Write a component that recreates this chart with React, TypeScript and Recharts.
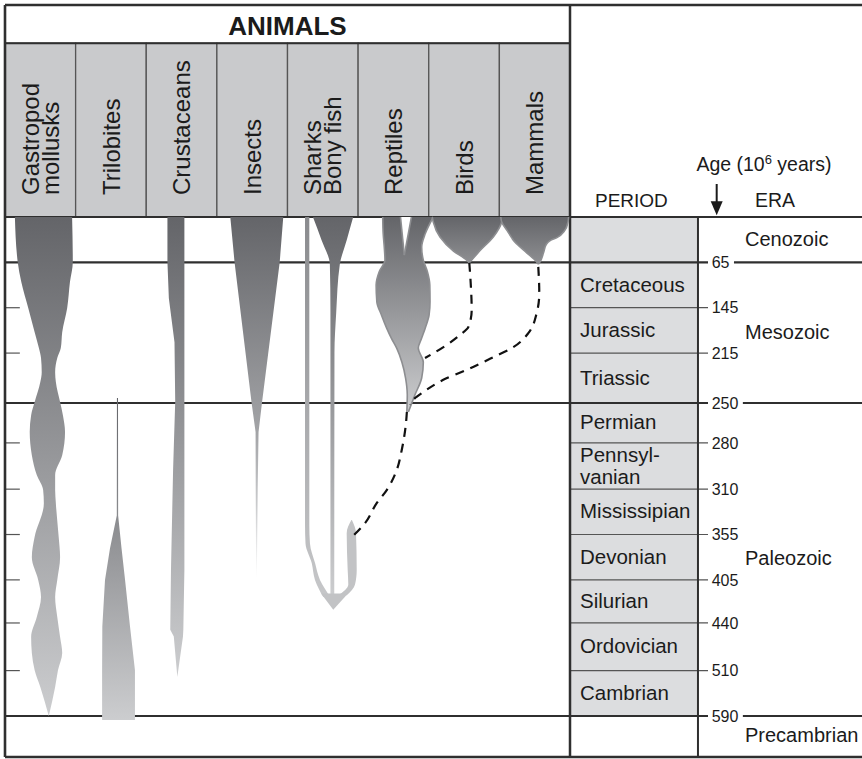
import React from 'react';
import {
  ComposedChart,
  Area,
  Line,
  XAxis,
  YAxis,
  ReferenceArea,
  ReferenceLine,
  ReferenceDot,
} from 'recharts';

// ---------------- layout constants ----------------
const FONT = "'Liberation Sans', Arial, Helvetica, sans-serif";
const INK = '#1b1b1b';
const W = 862;
const H = 759;
const MARGIN = { top: 5, right: 0, bottom: 2, left: 5 };
const COL_W = 70.625; // px per x unit (one animal column)
const ROW_H = 45.36; // px per y unit (one geologic period row)
const X_MAX = (W - MARGIN.left - MARGIN.right) / COL_W;
const Y_MIN = -212 / ROW_H;
const Y_MAX = Y_MIN + (H - MARGIN.top - MARGIN.bottom) / ROW_H;
const TITLE_BOTTOM = -3.83;
const PERIOD_X1 = 8;
const PERIOD_X2 = 9.812;
const TICK_END = 9.954;
const LEFT_TICK = 0.21;
const AGE_X = 10.006;
const ERA_X = 10.478;
const ARROW_X = 10.077;

// ---------------- data ----------------
const animals: string[][] = [
  ['Gastropod', 'mollusks'],
  ['Trilobites'],
  ['Crustaceans'],
  ['Insects'],
  ['Sharks', 'Bony fish'],
  ['Reptiles'],
  ['Birds'],
  ['Mammals'],
];

const periods: string[][] = [
  [],
  ['Cretaceous'],
  ['Jurassic'],
  ['Triassic'],
  ['Permian'],
  ['Pennsyl-', 'vanian'],
  ['Mississipian'],
  ['Devonian'],
  ['Silurian'],
  ['Ordovician'],
  ['Cambrian'],
];
const boundaryAges = [65, 145, 215, 250, 280, 310, 355, 405, 440, 510, 590];
const boundaryRows = [1, 2, 3, 4.1, 4.98, 6, 7, 8, 8.95, 10, 11];
const eraBoundaryAges = [65, 250, 590];
const eraNames = ['Cenozoic', 'Mesozoic', 'Paleozoic', 'Precambrian'];
const eraStartAges = [0, 65, 250, 590];

// spindles: [row, left, right] (left/right as fraction of the animal's column)
const gastropodPts = [
  [0, 0.14, 0.95], [0.99, 0.18, 0.96], [1.43, 0.23, 0.92], [2.01, 0.33, 0.88],
  [2.54, 0.42, 0.81], [2.89, 0.48, 0.79], [3.11, 0.51, 0.74], [3.42, 0.52, 0.71],
  [3.64, 0.5, 0.72], [4.08, 0.42, 0.78], [4.37, 0.37, 0.82], [4.74, 0.35, 0.85],
  [5.25, 0.38, 0.81], [5.69, 0.45, 0.71], [6.02, 0.54, 0.71], [6.31, 0.55, 0.72],
  [7.05, 0.42, 0.76], [7.5, 0.38, 0.78], [8.0, 0.47, 0.74], [8.38, 0.51, 0.71],
  [8.82, 0.45, 0.74], [9.26, 0.37, 0.78], [9.61, 0.38, 0.81], [9.99, 0.42, 0.75],
  [10.36, 0.5, 0.71], [11.0, 0.62, 0.62],
];
const trilobitePts = [
  [3.99, 0.585, 0.6], [6.58, 0.583, 0.602], [7.3, 0.487, 0.65], [8.0, 0.416, 0.7],
  [9.03, 0.378, 0.77], [9.99, 0.375, 0.84], [11.09, 0.375, 0.84],
];
const crustaceanPts = [
  [0, 0.3, 0.54], [0.99, 0.3, 0.54], [1.79, 0.32, 0.54], [2.76, 0.4, 0.54],
  [4.08, 0.41, 0.54], [5.58, 0.38, 0.54], [7.78, 0.35, 0.54], [9.1, 0.34, 0.525],
  [9.25, 0.39, 0.52], [10.14, 0.44, 0.44],
];
const insectPts = [
  [0, 0.19, 0.94], [0.99, 0.25, 0.89], [4.08, 0.49, 0.64], [4.74, 0.548, 0.59],
  [6.0, 0.55, 0.578], [7.94, 0.556, 0.566],
];
const sharkPts = [
  [0, 0.248, 0.309], [6.79, 0.248, 0.309], [7.2, 0.255, 0.318], [7.63, 0.343, 0.39],
  [8.0, 0.389, 0.46], [8.38, 0.507, 0.61],
];
const bonyFishPts = [
  [0, 0.36, 0.93], [0.5, 0.48, 0.84], [1.05, 0.6, 0.74], [2.1, 0.608, 0.69],
  [3.0, 0.608, 0.665], [8.38, 0.608, 0.662],
];
const fishArmPts = [
  [6.68, 0.905, 0.912], [6.97, 0.838, 0.97], [7.78, 0.852, 0.98], [8.1, 0.861, 0.956],
  [8.34, 0.719, 0.838],
];
const fishBasePts = [[8.3, 0.475, 0.856], [8.66, 0.648, 0.648]];
const reptilePts = [
  [0, 0.348, 1.064], [0.37, 0.355, 0.95], [0.66, 0.37, 0.9], [0.95, 0.38, 0.923],
  [1.2, 0.3, 0.98], [1.5, 0.255, 1.015], [1.87, 0.265, 1.018], [2.16, 0.33, 1.005],
  [2.45, 0.404, 0.95], [2.67, 0.47, 0.9], [2.89, 0.546, 0.852], [3.2, 0.62, 0.923],
  [3.55, 0.672, 0.9], [3.92, 0.696, 0.805], [4.3, 0.69, 0.711],
];
const reptileNotchPts = [[0, 0.6, 0.755], [0.84, 0.654, 0.654]];
const birdPts = [
  [0, 0.05, 1.045], [0.11, 0.064, 1.033], [0.44, 0.159, 0.914], [0.75, 0.35, 0.72],
  [0.95, 0.537, 0.608], [1.01, 0.574, 0.574],
];
const mammalPts = [
  [0, 0.02, 0.98], [0.11, 0.033, 0.972], [0.3, 0.11, 0.925], [0.46, 0.175, 0.81],
  [0.52, 0.2, 0.72], [0.6, 0.25, 0.665], [0.79, 0.387, 0.625], [0.99, 0.528, 0.575],
  [1.04, 0.552, 0.552],
];

// ancestry dashed links: [row, x (column units)]
const birdLink = [
  [1.01, 6.574], [1.46, 6.594], [2.05, 6.608], [2.43, 6.56], [2.6, 6.442], [2.82, 6.254], [3.11, 5.947],
];
const mammalLink = [
  [1.1, 7.551], [1.68, 7.565], [2.12, 7.528], [2.56, 7.41], [2.87, 7.197], [3.09, 6.914],
  [3.37, 6.537], [3.59, 6.206], [3.86, 5.923], [4.03, 5.781], [4.14, 5.735],
];
const reptileLink = [
  [4.3, 5.69], [4.54, 5.678], [5.14, 5.617], [5.58, 5.546], [6.02, 5.405], [6.31, 5.263],
  [6.75, 5.097], [7.01, 4.942],
];

// ---------------- helpers ----------------
const toSeries = (col: number, pts: number[][]) =>
  pts.map(([u, l, r]) => ({ u, v: [col + l, col + r] }));
const toLine = (pts: number[][]) => pts.map(([u, x]) => ({ u, x }));
const rowOfAge = (age: number) => (age === 0 ? 0 : boundaryRows[boundaryAges.indexOf(age)]);

const spindles = [
  { id: 'gastropod', data: toSeries(0, gastropodPts), fill: 'url(#gBox)', type: 'monotone', stroke: 'none' },
  { id: 'trilobite', data: toSeries(1, trilobitePts), fill: 'url(#gBox)', type: 'linear', stroke: 'none' },
  { id: 'crustacean', data: toSeries(2, crustaceanPts), fill: 'url(#gBox)', type: 'linear', stroke: 'none' },
  { id: 'insect', data: toSeries(3, insectPts), fill: 'url(#gInsect)', type: 'linear', stroke: 'none' },
  { id: 'shark', data: toSeries(4, sharkPts), fill: 'url(#gShark)', type: 'monotone', stroke: 'none' },
  { id: 'bonyfish', data: toSeries(4, bonyFishPts), fill: 'url(#gBox)', type: 'monotone', stroke: 'none' },
  { id: 'fisharm', data: toSeries(4, fishArmPts), fill: '#c2c3c5', type: 'monotone', stroke: 'none' },
  { id: 'fishbase', data: toSeries(4, fishBasePts), fill: '#c2c3c5', type: 'linear', stroke: 'none' },
  { id: 'reptile', data: toSeries(5, reptilePts), fill: 'url(#gBox)', type: 'monotone', stroke: '#8d8e91' },
  { id: 'reptileNotch', data: toSeries(5, reptileNotchPts), fill: '#ffffff', type: 'linear', stroke: '#8d8e91' },
  { id: 'bird', data: toSeries(6, birdPts), fill: 'url(#gBird)', type: 'monotone', stroke: '#8d8e91' },
  { id: 'mammal', data: toSeries(7, mammalPts), fill: 'url(#gBird)', type: 'monotone', stroke: '#8d8e91' },
];

// ---------------- label renderers ----------------
const HeaderLabel = (props: any) => {
  const { viewBox, lines } = props;
  if (!viewBox) return null;
  const { x, y, width, height } = viewBox;
  const cx = x + width / 2;
  const startY = y + height - 22;
  const fs = 24;
  return (
    <g>
      {lines.map((t: string, i: number) => {
        const bx = cx + (i - (lines.length - 1) / 2) * 20 + 0.36 * fs;
        return (
          <text
            key={i}
            transform={`translate(${bx},${startY}) rotate(-90)`}
            fontSize={fs}
            fontFamily={FONT}
            fill={INK}
          >
            {t}
          </text>
        );
      })}
    </g>
  );
};

const PeriodLabel = (props: any) => {
  const { viewBox, lines } = props;
  if (!viewBox || !lines.length) return null;
  const { x, y, height } = viewBox;
  const cy = y + height / 2;
  return (
    <g>
      {lines.map((t: string, i: number) => (
        <text
          key={i}
          x={x + 10}
          y={cy + (i - (lines.length - 1) / 2) * 22 + 6.5}
          fontSize={20.5}
          fontFamily={FONT}
          fill={INK}
        >
          {t}
        </text>
      ))}
    </g>
  );
};

const TextMark = (props: any) => {
  const { viewBox, text, size = 20, anchor = 'start', weight = 400, dy = 0 } = props;
  if (!viewBox) return null;
  return (
    <text
      x={viewBox.x}
      y={viewBox.y + dy}
      fontSize={size}
      textAnchor={anchor}
      fontWeight={weight}
      fontFamily={FONT}
      fill={INK}
    >
      {text}
    </text>
  );
};

const AgeTitle = (props: any) => {
  const { viewBox } = props;
  if (!viewBox) return null;
  return (
    <text x={viewBox.x} y={viewBox.y} fontSize={19.5} fontFamily={FONT} fill={INK}>
      <tspan>Age (10</tspan>
      <tspan dy={-7} fontSize={13}>6</tspan>
      <tspan dy={7}>{' years)'}</tspan>
    </text>
  );
};

const ArrowHead = (props: any) => {
  const { cx, cy } = props;
  if (cx == null || cy == null) return null;
  return <path d={`M${cx - 6},${cy - 14} L${cx + 6},${cy - 14} L${cx},${cy} Z`} fill={INK} />;
};

const THICK = { stroke: '#2f2f2f', strokeWidth: 2.3 };
const THIN = { stroke: '#555555', strokeWidth: 1.2 };

export default function App() {
  const eraLineSegments: { key: string; seg: { x: number; y: number }[] }[] = [];
  eraBoundaryAges.forEach((age) => {
    const r = rowOfAge(age);
    const resume = AGE_X + (String(age).length * 0.556 * 16 + 4.5) / COL_W;
    eraLineSegments.push({ key: `e1-${age}`, seg: [{ x: 0, y: r }, { x: TICK_END, y: r }] });
    eraLineSegments.push({ key: `e2-${age}`, seg: [{ x: resume, y: r }, { x: X_MAX, y: r }] });
  });

  return (
    <div style={{ position: 'absolute', left: 0, top: 0, width: W, height: H, background: '#ffffff' }}>
      <ComposedChart layout="vertical" width={W} height={H} margin={MARGIN}>
        <defs>
          <linearGradient id="gBox" x1="0" y1="0" x2="0" y2="1">
            <stop offset="0" stopColor="#646569" />
            <stop offset="1" stopColor="#cccdcf" />
          </linearGradient>
          <linearGradient id="gBird" x1="0" y1="0" x2="0" y2="1">
            <stop offset="0" stopColor="#646569" />
            <stop offset="1" stopColor="#8e8f92" />
          </linearGradient>
          <linearGradient id="gShark" x1="0" y1="0" x2="0" y2="1">
            <stop offset="0" stopColor="#8a8b8e" />
            <stop offset="1" stopColor="#c6c7c9" />
          </linearGradient>
          <linearGradient id="gInsect" x1="0" y1="0" x2="0" y2="1">
            <stop offset="0" stopColor="#646569" />
            <stop offset="0.6" stopColor="#a3a4a7" />
            <stop offset="0.8" stopColor="#cacbcd" />
            <stop offset="1" stopColor="#ffffff" />
          </linearGradient>
        </defs>

        <XAxis type="number" domain={[0, X_MAX]} hide allowDataOverflow />
        <YAxis type="number" dataKey="u" domain={[Y_MIN, Y_MAX]} hide allowDataOverflow />

        {/* title row */}
        <ReferenceArea
          x1={0}
          x2={8}
          y1={Y_MIN}
          y2={TITLE_BOTTOM}
          fill="#ffffff"
          fillOpacity={1}
          stroke="none"
          ifOverflow="visible"
          zIndex={10}
        />

        {/* animal header cells */}
        {animals.map((lines, i) => (
          <ReferenceArea
            key={`hdr-${i}`}
            x1={i}
            x2={i + 1}
            y1={TITLE_BOTTOM}
            y2={0}
            fill="#c9cacc"
            fillOpacity={1}
            stroke="#555555"
            strokeWidth={1.3}
            ifOverflow="visible"
            zIndex={10}
            label={<HeaderLabel lines={lines} />}
          />
        ))}

        {/* period column */}
        {periods.map((lines, i) => (
          <ReferenceArea
            key={`per-${i}`}
            x1={PERIOD_X1}
            x2={PERIOD_X2}
            y1={i === 0 ? 0 : boundaryRows[i - 1]}
            y2={boundaryRows[i]}
            fill="#dcdddf"
            fillOpacity={1}
            stroke="none"
            ifOverflow="visible"
            zIndex={10}
            label={<PeriodLabel lines={lines} />}
          />
        ))}

        {/* period boundary lines (thin) */}
        {boundaryAges
          .filter((a) => !eraBoundaryAges.includes(a))
          .map((age) => {
            const r = rowOfAge(age);
            return (
              <ReferenceLine
                key={`pl-${age}`}
                segment={[{ x: PERIOD_X1, y: r }, { x: TICK_END, y: r }]}
                {...THIN}
                ifOverflow="visible"
                zIndex={20}
              />
            );
          })}
        {boundaryAges
          .filter((a) => !eraBoundaryAges.includes(a))
          .map((age) => {
            const r = rowOfAge(age);
            return (
              <ReferenceLine
                key={`lt-${age}`}
                segment={[{ x: 0, y: r }, { x: LEFT_TICK, y: r }]}
                {...THIN}
                ifOverflow="visible"
                zIndex={20}
              />
            );
          })}

        {/* era lines (thick) */}
        {eraLineSegments.map((s) => (
          <ReferenceLine key={s.key} segment={s.seg} {...THICK} strokeWidth={2.1} ifOverflow="visible" zIndex={20} />
        ))}

        {/* frame */}
        <ReferenceLine segment={[{ x: 0, y: Y_MIN }, { x: X_MAX, y: Y_MIN }]} {...THICK} ifOverflow="visible" zIndex={20} />
        <ReferenceLine segment={[{ x: 0, y: Y_MAX }, { x: X_MAX, y: Y_MAX }]} {...THICK} ifOverflow="visible" zIndex={20} />
        <ReferenceLine segment={[{ x: 0, y: Y_MIN }, { x: 0, y: Y_MAX }]} {...THICK} strokeWidth={2.6} ifOverflow="visible" zIndex={20} />
        <ReferenceLine segment={[{ x: PERIOD_X1, y: Y_MIN }, { x: PERIOD_X1, y: Y_MAX }]} {...THICK} strokeWidth={2.5} ifOverflow="visible" zIndex={20} />
        <ReferenceLine segment={[{ x: PERIOD_X2, y: 0 }, { x: PERIOD_X2, y: Y_MAX }]} {...THICK} strokeWidth={2} ifOverflow="visible" zIndex={20} />
        <ReferenceLine segment={[{ x: 0, y: TITLE_BOTTOM }, { x: PERIOD_X1, y: TITLE_BOTTOM }]} {...THICK} strokeWidth={2} ifOverflow="visible" zIndex={20} />
        <ReferenceLine segment={[{ x: 0, y: 0 }, { x: X_MAX, y: 0 }]} {...THICK} strokeWidth={2.1} ifOverflow="visible" zIndex={20} />

        {/* arrow shaft */}
        <ReferenceLine
          segment={[{ x: ARROW_X, y: -0.728 }, { x: ARROW_X, y: -0.3 }]}
          stroke={INK}
          strokeWidth={2}
          ifOverflow="visible"
          zIndex={20}
        />

        {/* spindles */}
        {spindles.map((s) => (
          <Area
            key={s.id}
            data={s.data}
            dataKey="v"
            type={s.type as any}
            fill={s.fill}
            fillOpacity={1}
            stroke={s.stroke}
            strokeWidth={1.6}
            dot={false}
            activeDot={false}
            isAnimationActive={false}
            legendType="none"
            zIndex={30}
          />
        ))}

        {/* ancestry links */}
        {[birdLink, mammalLink, reptileLink].map((pts, i) => (
          <Line
            key={`link-${i}`}
            data={toLine(pts)}
            dataKey="x"
            type="monotone"
            stroke="#111111"
            strokeWidth={2.2}
            strokeDasharray="9 7"
            dot={false}
            activeDot={false}
            isAnimationActive={false}
            legendType="none"
            zIndex={40}
          />
        ))}

        {/* arrow head */}
        <ReferenceDot x={ARROW_X} y={-0.04} r={1} shape={<ArrowHead />} ifOverflow="visible" zIndex={50} />

        {/* titles */}
        <ReferenceDot
          x={4}
          y={(35 - 217) / ROW_H}
          r={0}
          fill="none"
          stroke="none"
          ifOverflow="visible"
          label={<TextMark text="ANIMALS" size={26} weight={700} anchor="middle" />}
        />
        <ReferenceDot x={9.79} y={-1.021} r={0} fill="none" stroke="none" ifOverflow="visible" label={<AgeTitle />} />
        <ReferenceDot
          x={8.354}
          y={-0.227}
          r={0}
          fill="none"
          stroke="none"
          ifOverflow="visible"
          label={<TextMark text="PERIOD" size={19} />}
        />
        <ReferenceDot
          x={10.62}
          y={-0.227}
          r={0}
          fill="none"
          stroke="none"
          ifOverflow="visible"
          label={<TextMark text="ERA" size={19.5} />}
        />

        {/* age labels */}
        {boundaryAges.map((age) => (
          <ReferenceDot
            key={`age-${age}`}
            x={AGE_X}
            y={rowOfAge(age)}
            r={0}
            fill="none"
            stroke="none"
            ifOverflow="visible"
            label={<TextMark text={String(age)} size={16} dy={5.7} />}
          />
        ))}

        {/* era labels */}
        {eraNames.map((name, i) => {
          const start = rowOfAge(eraStartAges[i]);
          const end = i < eraNames.length - 1 ? rowOfAge(eraStartAges[i + 1]) : Y_MAX;
          return (
            <ReferenceDot
              key={`era-${name}`}
              x={ERA_X}
              y={(start + end) / 2}
              r={0}
              fill="none"
              stroke="none"
              ifOverflow="visible"
              label={<TextMark text={name} size={20} dy={6} />}
            />
          );
        })}
      </ComposedChart>
    </div>
  );
}
